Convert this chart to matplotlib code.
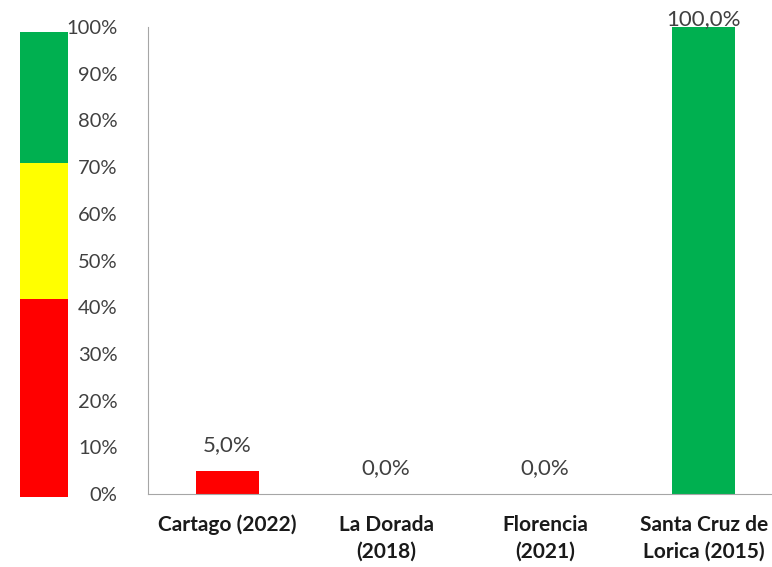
import matplotlib.pyplot as plt

categorias = ['Cartago (2022)', 'La Dorada\n(2018)', 'Florencia\n(2021)', 'Santa Cruz de\nLorica (2015)']
valores = [5.0, 0.0, 0.0, 100.0]
colores = ['#ff0000', '#ff0000', '#ff0000', '#00b050']

# franjas del semaforo (rojo, amarillo, verde)
franjas = [42.4, 29.1, 28.0]
colores_franja = ['#ff0000', '#ffff00', '#00b050']
ticks = list(range(0, 101, 10))

plt.rcParams['font.family'] = ['Lato', 'DejaVu Sans']

fig = plt.figure(figsize=(7.72, 5.67), dpi=100)
ax = fig.add_axes([148/772, 73/567, 635/772, 467/567])

x = range(len(categorias))
ax.bar(x, valores, width=0.4, color=colores)
for i, v in enumerate(valores):
    ax.text(i, v + 3.3 if v < 100 else v - 0.4, ('%.1f%%' % v).replace('.', ','),
            ha='center', va='bottom', fontsize=16, color='#404040')

ax.set_xlim(-0.5, 3.5)
ax.set_ylim(0, 100)
ax.set_yticks(ticks)
ax.set_yticklabels(['%d%%' % t for t in ticks], fontsize=14.5, color='#404040')
ax.set_xticks(list(x))
ax.set_xticklabels(categorias, fontsize=15, fontweight='bold', color='#1a1a1a',
                   linespacing=1.4)
ax.tick_params(axis='both', length=0)
ax.tick_params(axis='y', pad=22)
ax.tick_params(axis='x', pad=15)
for s in ['top', 'right']:
    ax.spines[s].set_visible(False)
ax.spines['left'].set_color('#a6a6a6')
ax.spines['bottom'].set_color('#a6a6a6')

# barra de colores a la izquierda
axb = fig.add_axes([20/772, 73/567, 48/772, 467/567])
abajo = -0.6
for h, c in zip(franjas, colores_franja):
    axb.bar(0, h, bottom=abajo, width=1, color=c)
    abajo += h
axb.set_xlim(-0.5, 0.5)
axb.set_ylim(0, 100)
axb.axis('off')
for p in axb.patches:
    p.set_clip_on(False)

fig.savefig('out.png', dpi=100)
